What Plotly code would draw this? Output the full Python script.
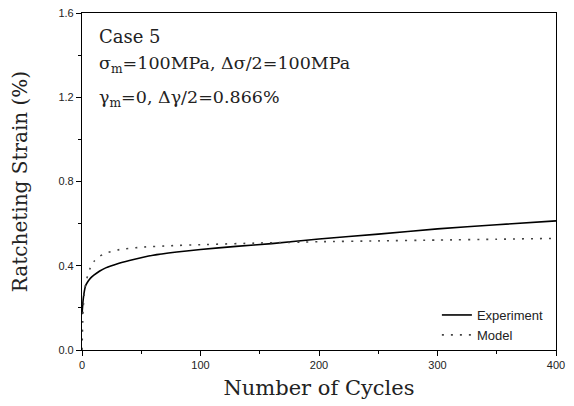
import plotly.graph_objects as go

exp_cycles = [0, 1, 2, 3, 5, 7, 10, 15, 20, 30, 40, 60, 80, 100, 130, 160, 200, 250, 300, 350, 400]
exp_strain = [0.17, 0.24, 0.28, 0.305, 0.325, 0.34, 0.355, 0.375, 0.39, 0.41, 0.425, 0.45, 0.465, 0.477, 0.492, 0.505, 0.527, 0.55, 0.575, 0.595, 0.613]

model_cycles = [0, 1, 2, 3, 5, 7, 10, 15, 20, 30, 50, 75, 100, 150, 200, 250, 300, 350, 400]
model_strain = [0.0, 0.2, 0.27, 0.31, 0.36, 0.39, 0.42, 0.445, 0.46, 0.475, 0.488, 0.495, 0.5, 0.508, 0.514, 0.518, 0.522, 0.526, 0.53]

x_ticks = [0, 100, 200, 300, 400]
y_ticks = [0.0, 0.4, 0.8, 1.2, 1.6]

serif = "DejaVu Serif, serif"
sans = "Liberation Sans, Arial, sans-serif"

fig = go.Figure()
fig.add_trace(go.Scatter(x=exp_cycles, y=exp_strain, mode="lines", name="Experiment",
                         line=dict(color="black", width=1.6, shape="spline", smoothing=0.6)))
fig.add_trace(go.Scatter(x=model_cycles, y=model_strain, mode="lines", name="Model",
                         line=dict(color="#444444", width=1.6, dash="2px,7px", shape="spline", smoothing=0.6)))

axis_common = dict(showline=True, linecolor="black", linewidth=1.2, mirror=True, automargin=False,
                   ticks="outside", ticklen=5, tickcolor="black", showgrid=False, zeroline=False,
                   ticklabeloverflow="allow",
                   tickfont=dict(family=sans, size=11, color="#222222"))

fig.update_xaxes(range=[0, 400], tickvals=x_ticks, ticktext=[str(v) for v in x_ticks],
                 minor=dict(dtick=50, ticks="outside", ticklen=3, tickcolor="black"),
                 title=dict(text="Number of Cycles", font=dict(family=serif, size=21, color="#222222"), standoff=10),
                 **axis_common)
fig.update_yaxes(range=[0, 1.6], tickvals=y_ticks, ticktext=[f"{v:.1f}" for v in y_ticks],
                 minor=dict(dtick=0.2, ticks="outside", ticklen=3, tickcolor="black"),
                 title=dict(text="Ratcheting Strain (%)", font=dict(family=serif, size=20, color="#222222"), standoff=26),
                 **axis_common)

ann_font = dict(family=serif, size=18, color="#222222")
fig.add_annotation(x=0.032, y=0.93, xref="paper", yref="paper", xanchor="left", yanchor="middle",
                   text="Case 5", showarrow=False, font=ann_font)
fig.add_annotation(x=0.032, y=0.847, xref="paper", yref="paper", xanchor="left", yanchor="middle",
                   text="σ<sub>m</sub>=100MPa, Δσ/2=100MPa", showarrow=False, font=dict(family=serif, size=17.5, color="#222222"))
fig.add_annotation(x=0.032, y=0.745, xref="paper", yref="paper", xanchor="left", yanchor="middle",
                   text="γ<sub>m</sub>=0, Δγ/2=0.866%", showarrow=False, font=dict(family=serif, size=17.5, color="#222222"))

fig.update_layout(width=566, height=398, margin=dict(l=74, r=18, t=5, b=56),
                  paper_bgcolor="white", plot_bgcolor="white",
                  legend=dict(x=0.985, y=0.0, xanchor="right", yanchor="bottom",
                              bgcolor="rgba(0,0,0,0)", font=dict(family=sans, size=13, color="#222222"),
                              tracegroupgap=0, itemwidth=30))

fig.write_html("out.html")
